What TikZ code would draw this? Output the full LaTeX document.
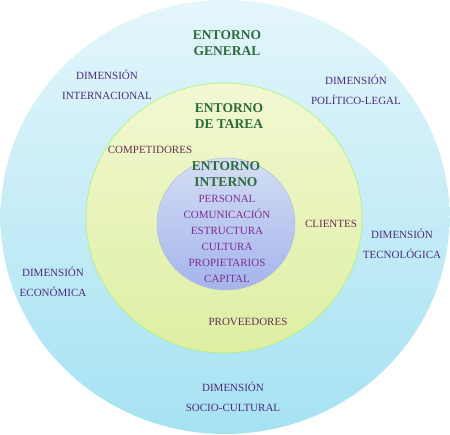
\documentclass[tikz,border=0pt]{standalone}
\usepackage{fontspec}
\setmainfont{Liberation Serif}
\definecolor{outerTop}{HTML}{E4F6FB}
\definecolor{outerBot}{HTML}{A6E2F3}
\definecolor{midTop}{HTML}{F2F8D2}
\definecolor{midBot}{HTML}{DDEFA2}
\definecolor{innTop}{HTML}{D4DEF4}
\definecolor{innBot}{HTML}{A4B4EC}
\definecolor{titleGreen}{HTML}{2E6B3A}
\definecolor{dimPurple}{HTML}{4B2A7E}
\definecolor{taskBrown}{HTML}{6A3052}
\definecolor{innPurple}{HTML}{7A2E92}
\begin{document}
\begin{tikzpicture}[x=1pt,y=-1pt,
  title/.style={font=\bfseries\fontsize{13.5}{15.5}\selectfont, text=titleGreen, align=center, inner sep=0pt},
  dimlabel/.style={font=\fontsize{11}{20}\selectfont, text=dimPurple, align=center, inner sep=0pt},
  tasklabel/.style={font=\fontsize{11}{13}\selectfont, text=taskBrown, align=center, inner sep=0pt},
  innlabel/.style={font=\fontsize{11}{16}\selectfont, text=innPurple, align=center, inner sep=0pt}]
\useasboundingbox (0,0) rectangle (450,435);
\shade[top color=outerTop, bottom color=outerBot] (225pt,-217pt) ellipse [x radius=224.5pt, y radius=217pt];
\shade[top color=midTop, bottom color=midBot, draw=green!25!midBot, line width=0.6pt] (224pt,-218pt) ellipse [x radius=138pt, y radius=135pt];
\shade[top color=innTop, bottom color=innBot, draw=innBot!80!black!60, line width=0.5pt] (226pt,-224pt) ellipse [x radius=69pt, y radius=66pt];
\node[title] (general) at (227,43) {ENTORNO\\GENERAL};
\node[title] (tarea) at (229,116) {ENTORNO\\DE TAREA};
\node[title] (interno) at (226,174) {ENTORNO\\INTERNO};
\node[innlabel] (lista) at (227,239) {PERSONAL\\COMUNICACIÓN\\ESTRUCTURA\\CULTURA\\PROPIETARIOS\\CAPITAL};
\node[dimlabel] (intl) at (107,85) {DIMENSIÓN\\INTERNACIONAL};
\node[dimlabel] (pol) at (356,90) {DIMENSIÓN\\POLÍTICO-LEGAL};
\node[dimlabel] (tec) at (402,244) {DIMENSIÓN\\TECNOLÓGICA};
\node[dimlabel] (eco) at (53,282) {DIMENSIÓN\\ECONÓMICA};
\node[dimlabel] (soc) at (233,397) {DIMENSIÓN\\SOCIO-CULTURAL};
\node[tasklabel] (comp) at (150,150) {COMPETIDORES};
\node[tasklabel] (cli) at (331,224) {CLIENTES};
\node[tasklabel] (prov) at (248,322) {PROVEEDORES};
\end{tikzpicture}
\end{document}
